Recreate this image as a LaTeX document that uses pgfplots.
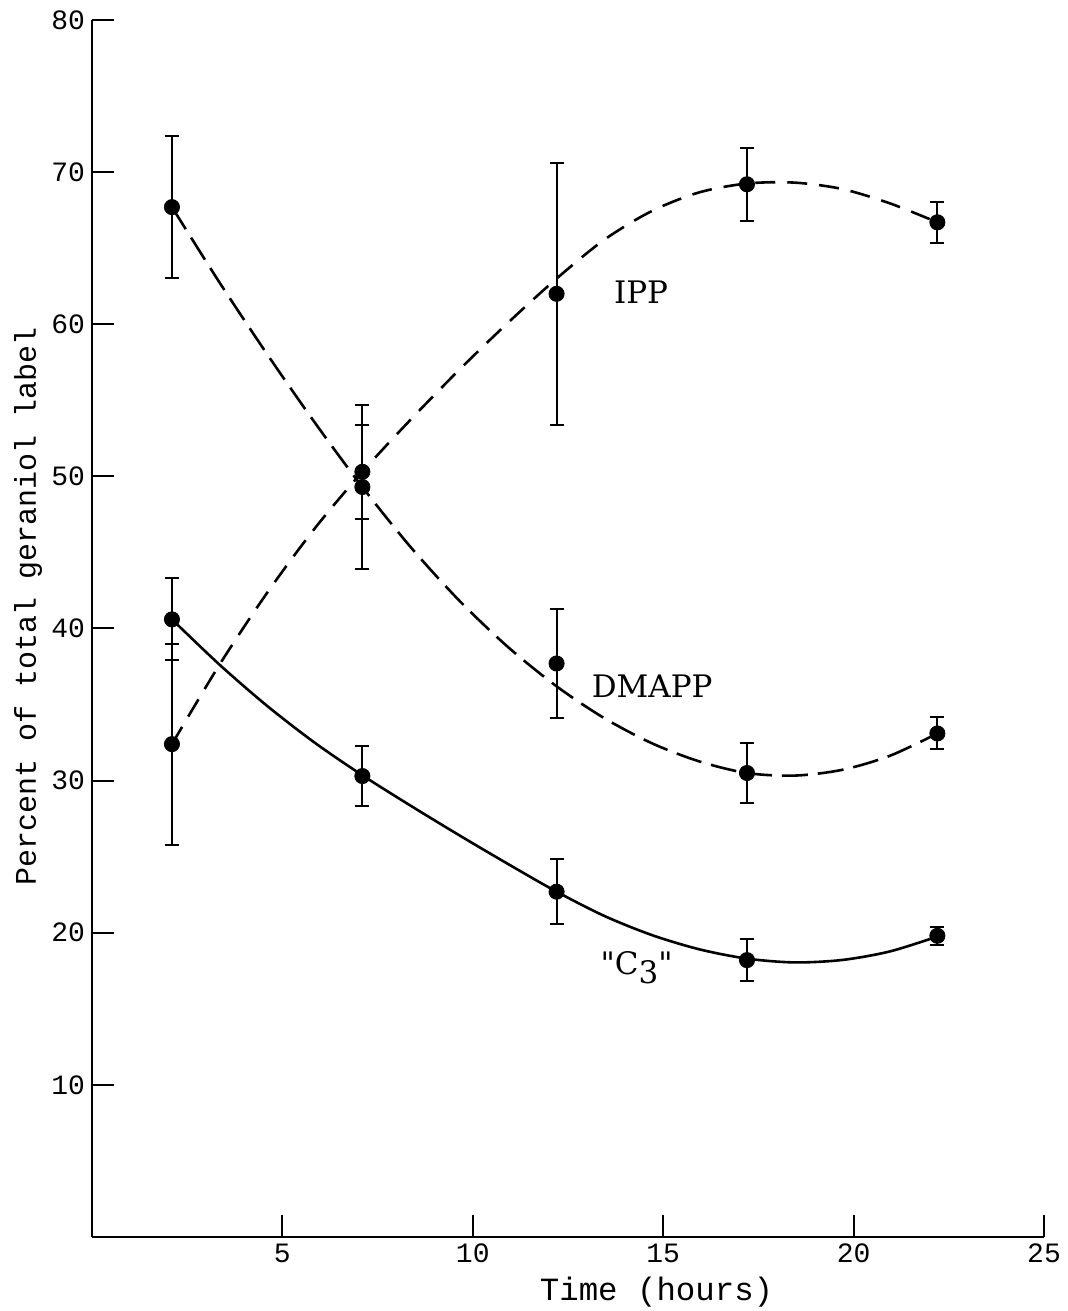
\documentclass[border=0pt]{standalone}
\usepackage{fontspec}
\setmainfont{DejaVu Serif}[Ligatures=TeXOff]
\newfontfamily\monofont{Liberation Mono}
\usepackage{pgfplots}
\pgfplotsset{compat=1.18}
\begin{document}
\begin{tikzpicture}
\begin{axis}[
  scale only axis, width=476pt, height=608.5pt,
  xmin=0, xmax=25, ymin=0, ymax=80,
  axis x line*=bottom, axis y line*=left,
  xtick={5,10,15,20,25}, ytick={10,20,...,80},
  tick align=inside,
  major tick length=11pt,
  tick style={line width=1pt, black},
  axis line style={line width=1.4pt, -},
  /pgf/number format/assume math mode=true,
  ticklabel style={font=\monofont\fontsize{14}{14}\selectfont},
  xlabel={Time (hours)},
  ylabel={Percent of total geraniol label},
  xlabel style={font=\monofont\fontsize{16.2}{16}\selectfont, at={(axis description cs:0.593,-0.045)}, anchor=center},
  ylabel style={font=\monofont\fontsize{15}{15}\selectfont, at={(axis description cs:-0.067,0.518)}, anchor=center},
  clip=false,
]
% fitted curves
\addplot[black, line width=1.3pt, dash pattern=on 10pt off 6pt, smooth] coordinates {
 (2.1,32.4) (3.35,37.63) (4.6,42.35) (5.85,46.58) (7.1,50.3) (8.375,53.75)
 (9.65,57.02) (10.925,60.10) (12.2,63.0) (13.45,65.55) (14.7,67.44) (15.95,68.67)
 (17.2,69.25) (18.45,69.31) (19.7,68.89) (20.95,67.95) (22.2,66.7)};
\addplot[black, line width=1.3pt, dash pattern=on 13pt off 5pt, smooth] coordinates {
 (2.1,67.7) (3.35,62.74) (4.6,58.03) (5.85,53.54) (7.1,49.3) (8.375,45.33)
 (9.65,41.82) (10.925,38.78) (12.2,36.2) (13.45,34.11) (14.7,32.46) (15.95,31.26)
 (17.2,30.5) (18.45,30.33) (19.7,30.71) (20.95,31.63) (22.2,33.1)};
\addplot[black, line width=1.3pt, smooth] coordinates {
 (2.1,40.6) (3.35,37.62) (4.6,34.91) (5.85,32.49) (7.1,30.35) (8.375,28.34)
 (9.65,26.40) (10.925,24.52) (12.2,22.70) (13.45,21.11) (14.7,19.85) (15.95,18.91)
 (17.2,18.3) (18.45,18.05) (19.7,18.21) (20.95,18.77) (22.2,19.75)};
% data points with error bars
\addplot[only marks, mark=*, mark size=3.8pt, black,
  error bars/.cd, y dir=both, y explicit,
  error bar style={line width=1pt, black},
  error mark options={line width=1pt, mark size=3.5pt, rotate=90}]
  table[x=x, y=y, y error=e] {
x y e
2.1 32.4 6.6
7.1 50.3 3.1
12.2 62.0 8.6
17.2 69.2 2.4
22.2 66.7 1.35
};
\addplot[only marks, mark=*, mark size=3.8pt, black,
  error bars/.cd, y dir=both, y explicit,
  error bar style={line width=1pt, black},
  error mark options={line width=1pt, mark size=3.5pt, rotate=90}]
  table[x=x, y=y, y error=e] {
x y e
2.1 67.7 4.65
7.1 49.3 5.4
12.2 37.7 3.6
17.2 30.5 1.95
22.2 33.1 1.05
};
\addplot[only marks, mark=*, mark size=3.8pt, black,
  error bars/.cd, y dir=both, y explicit,
  error bar style={line width=1pt, black},
  error mark options={line width=1pt, mark size=3.5pt, rotate=90}]
  table[x=x, y=y, y error=e] {
x y e
2.1 40.6 2.7
7.1 30.3 2.0
12.2 22.7 2.15
17.2 18.2 1.4
22.2 19.8 0.6
};
\node[font=\fontsize{15.5}{15.5}\selectfont] at (axis cs:14.42,62.1) {IPP};
\node[font=\fontsize{15.5}{15.5}\selectfont] at (axis cs:14.71,36.2) {DMAPP};
\node[font=\fontsize{15.5}{15.5}\selectfont] at (axis cs:14.3,17.7) {"C\raisebox{-0.6ex}{3}"};
\end{axis}
\pgfresetboundingbox
\path[use as bounding box] ([xshift=-46pt,yshift=-37pt]current axis.south west) rectangle ([xshift=12pt,yshift=10pt]current axis.north east);
\end{tikzpicture}
\end{document}
